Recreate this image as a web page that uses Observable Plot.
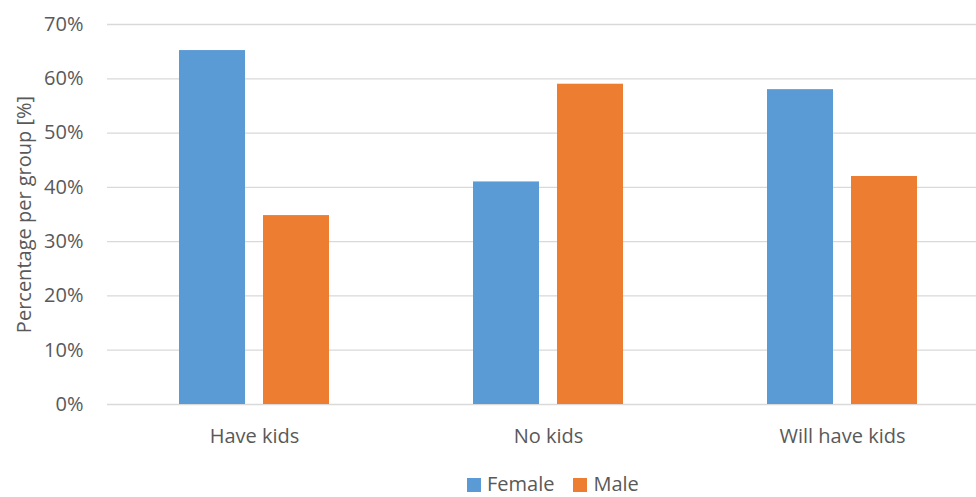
<!DOCTYPE html>
<html>
<head>
<meta charset="utf-8">
<script src="https://cdn.jsdelivr.net/npm/d3@7"></script>
<script src="https://cdn.jsdelivr.net/npm/@observablehq/plot@0.6"></script>
<style>
  body { margin: 0; background: #fff; font-family: "Open Sans", sans-serif; overflow: hidden; }
  #chart svg { display: block; }
  #legend { display: flex; align-items: center; height: 37px; margin-left: 467px; font-size: 20px; line-height: 20px; color: #595959; font-family: "Open Sans", sans-serif; }
  #legend .item { display: flex; align-items: center; margin-right: 19px; position: relative; top: 5px; }
  #legend .sw { width: 14px; height: 14px; margin-right: 6px; position: relative; top: 1px; }
</style>
</head>
<body>
<div id="chart"></div>
<div id="legend"></div>
<script>
const groups = ["Have kids", "No kids", "Will have kids"];
const seriesNames = ["Female", "Male"];
const femaleValues = [65.2, 41.0, 58.0];
const maleValues = [34.8, 59.0, 42.0];
const yTicks = [0, 10, 20, 30, 40, 50, 60, 70];
const colors = ["#5B9BD5", "#ED7D31"];

const rows = [];
groups.forEach((g, i) => {
  rows.push({group: g, sex: seriesNames[0], value: femaleValues[i]});
  rows.push({group: g, sex: seriesNames[1], value: maleValues[i]});
});

const chart = Plot.plot({
  width: 976,
  height: 460,
  marginLeft: 107,
  marginRight: -13,
  marginTop: 24,
  marginBottom: 56,
  style: {fontFamily: "Open Sans, sans-serif", fontSize: "20px", color: "#595959", background: "#fff", overflow: "hidden"},
  facet: {data: rows, x: "group"},
  fx: {domain: groups, padding: 0, label: null, tickSize: 0, tickPadding: 24},
  x: {domain: seriesNames, paddingInner: 0.214, paddingOuter: 0.857, axis: null},
  y: {domain: [0, 70], ticks: yTicks, tickFormat: d => d + "%", tickSize: 0, tickPadding: 24,
      label: "Percentage per group [%]", labelArrow: "none", labelAnchor: "center", labelOffset: 91},
  color: {domain: seriesNames, range: colors},
  marks: [
    Plot.ruleY(yTicks, {stroke: "#d9d9d9", strokeWidth: 1.3}),
    Plot.barY(rows, {x: "sex", y: "value", fill: "sex"})
  ]
});
document.getElementById("chart").appendChild(chart);

// Remove any auto-added arrow from the y-axis label
chart.querySelectorAll("text").forEach(t => {
  if (t.textContent.includes("Percentage")) {
    t.textContent = t.textContent.replace(/\s*[↑→]\s*/g, "").trim();
  }
});

const legend = document.getElementById("legend");
seriesNames.forEach((s, i) => {
  const item = document.createElement("div");
  item.className = "item";
  const sw = document.createElement("div");
  sw.className = "sw";
  sw.style.background = colors[i];
  const t = document.createElement("span");
  t.textContent = s;
  item.appendChild(sw);
  item.appendChild(t);
  legend.appendChild(item);
});
</script>
</body>
</html>
